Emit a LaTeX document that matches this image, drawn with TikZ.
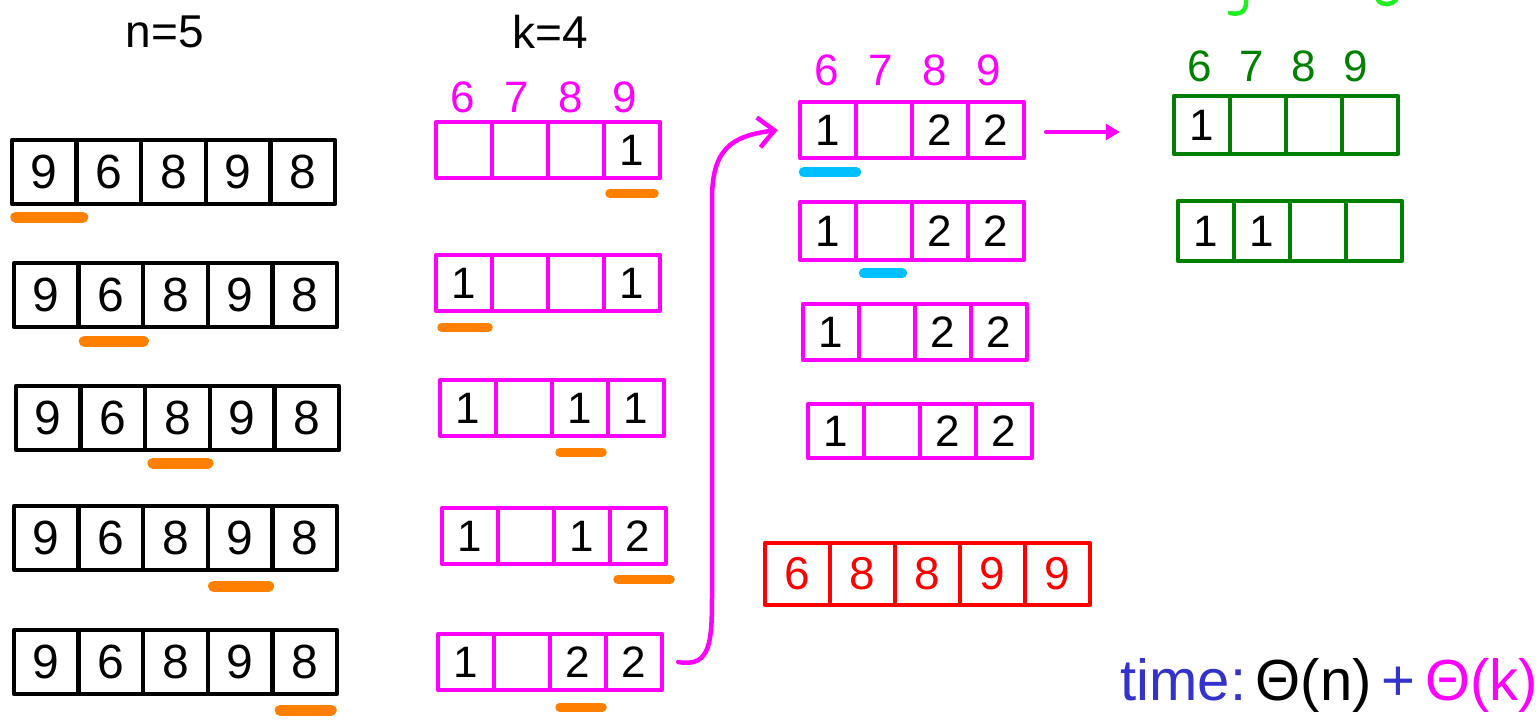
\documentclass[tikz,border=0pt]{standalone}
\usepackage{fontspec}
\setmainfont{Liberation Sans}
\usetikzlibrary{arrows.meta}
\definecolor{mag}{HTML}{FF00FF}
\definecolor{orng}{HTML}{FF8000}
\definecolor{sky}{HTML}{00BFFF}
\definecolor{grn}{HTML}{008000}
\definecolor{lime}{HTML}{22EE22}
\definecolor{rd}{HTML}{FF0000}
\definecolor{tblue}{HTML}{3333CC}
\newcommand\drawarr[9]{%
  \foreach \t [count=\i from 0] in {#8} {
    \node[cell, draw=#6, text=#7, minimum width=#4pt, minimum height=#5pt,
      font=\fontsize{#9}{#9}\selectfont]
      (#1-\i) at ({#2+(\i+0.5)*#4}, #3) {\t};
  }
}
\newcommand\hdr[5]{% name, x0, y, cw, color
  \foreach \t [count=\i from 0] in {6,7,8,9} {
    \node[hdrtext, text=#5] (#1-\i) at ({#2+(\i+0.5)*#4}, #3) {\t};
  }
}
\begin{document}
\begin{tikzpicture}[x=1pt,y=-1pt,
  cell/.style={rectangle, line width=4.5pt, inner sep=0pt, line join=round},
  hdrtext/.style={inner sep=0pt, font=\fontsize{44}{44}\selectfont},
  lbl/.style={inner sep=0pt, font=\fontsize{46}{46}\selectfont},
  omark/.style={orng, line width=11pt, line cap=round},
  bmark/.style={sky, line width=10pt, line cap=round},
  marrow/.style={mag, line width=4.5pt, line cap=round},
]
\useasboundingbox (0,0) rectangle (1540,720);
\fill[white] (0,0) rectangle (1540,720);

% labels
\node[lbl] (nlab) at (165,32) {n=5};
\node[lbl] (klab) at (550,32) {k=4};

% column 1 : input arrays
\drawarr{a1}{12}{172}{64.6}{64}{black}{black}{9,6,8,9,8}{48}
\drawarr{a2}{14}{295}{64.6}{64}{black}{black}{9,6,8,9,8}{48}
\drawarr{a3}{16}{418}{64.6}{64}{black}{black}{9,6,8,9,8}{48}
\drawarr{a4}{14}{538}{64.6}{64}{black}{black}{9,6,8,9,8}{48}
\drawarr{a5}{14}{662}{64.6}{64}{black}{black}{9,6,8,9,8}{48}
\draw[omark] ([xshift=6pt,yshift=-11pt]a1-0.south west) -- ([xshift=4pt,yshift=-11pt]a1-0.south east);
\draw[omark] ([xshift=8pt,yshift=-12pt]a2-1.south west) -- ([xshift=-2pt,yshift=-12pt]a2-1.south east);
\draw[omark] ([xshift=10pt,yshift=-11pt]a3-2.south west) -- ([xshift=-4pt,yshift=-11pt]a3-2.south east);
\draw[omark] ([xshift=8pt,yshift=-14pt]a4-3.south west) -- ([xshift=-6pt,yshift=-14pt]a4-3.south east);
\draw[omark] ([xshift=10pt,yshift=-14pt]a5-4.south west) -- ([xshift=-8pt,yshift=-14pt]a5-4.south east);

% column 2 : counting arrays
\hdr{h2}{436}{97}{54}{mag}
\drawarr{c1}{436}{150}{56}{56}{mag}{black}{{},{},{},1}{44}
\drawarr{c2}{436}{283}{56}{56}{mag}{black}{1,{},{},1}{44}
\drawarr{c3}{440}{408}{56}{56}{mag}{black}{1,{},1,1}{44}
\drawarr{c4}{442}{536}{56}{56}{mag}{black}{1,{},1,2}{44}
\drawarr{c5}{438}{662}{56}{56}{mag}{black}{1,{},2,2}{44}
\draw[omark, line width=9pt] ([xshift=8pt,yshift=-13pt]c1-3.south west) -- ([xshift=-8pt,yshift=-13pt]c1-3.south east);
\draw[omark, line width=9pt] ([xshift=8pt,yshift=-14pt]c2-0.south west) -- ([xshift=-6pt,yshift=-14pt]c2-0.south east);
\draw[omark, line width=9pt] ([xshift=10pt,yshift=-14pt]c3-2.south west) -- ([xshift=-8pt,yshift=-14pt]c3-2.south east);
\draw[omark, line width=9pt] ([xshift=10pt,yshift=-13pt]c4-3.south west) -- ([xshift=2pt,yshift=-13pt]c4-3.south east);
\draw[omark, line width=9pt] ([xshift=12pt,yshift=-15pt]c5-2.south west) -- ([xshift=-6pt,yshift=-15pt]c5-2.south east);

% column 3 : cumulative arrays
\hdr{h3}{800}{70}{54}{mag}
\drawarr{p1}{800}{130}{56}{56}{mag}{black}{1,{},2,2}{44}
\drawarr{p2}{800}{231}{56}{58}{mag}{black}{1,{},2,2}{44}
\drawarr{p3}{803}{332}{56}{56}{mag}{black}{1,{},2,2}{44}
\drawarr{p4}{808}{431}{56}{54}{mag}{black}{1,{},2,2}{44}
\draw[bmark] ([xshift=6pt,yshift=-12pt]p1-0.south west) -- ([xshift=-2pt,yshift=-12pt]p1-0.south east);
\draw[bmark] ([xshift=10pt,yshift=-11pt]p2-1.south west) -- ([xshift=-12pt,yshift=-11pt]p2-1.south east);

% output array
\drawarr{r}{765}{574}{65}{62}{rd}{rd}{6,8,8,9,9}{46}

% column 4 : green arrays
\hdr{h4}{1174}{66}{52}{grn}
\drawarr{g1}{1174}{125}{56}{58}{grn}{black}{1,{},{},{}}{44}
\drawarr{g2}{1178}{231}{56}{60}{grn}{black}{1,1,{},{}}{44}

% cut-off green text at the top edge
\draw[lime, line width=4.5pt, line cap=round] (1246,0) .. controls (1247,12) and (1240,15) .. (1230,13);
\draw[lime, line width=4.5pt, line cap=round] (1378,0) .. controls (1382,6) and (1392,5) .. (1396,0);

% connectors
\coordinate (cs) at ([xshift=14pt]c5-3.east);
\coordinate (ce) at ([xshift=-20pt]p1-0.west);
\draw[marrow, -{Straight Barb[length=16pt,width=30pt,line width=4.5pt]}]
  (cs) .. controls (712,668) and (712,640) .. (712,590)
  -- (712,200) .. controls (712,150) and (730,136) .. (ce);
\coordinate (gs) at ([xshift=20pt,yshift=-2pt]p1-3.east);
\coordinate (ge) at ([xshift=-52pt]g1-0.west |- gs);
\draw[marrow, -{Triangle[length=14pt,width=16pt]}] (gs) -- (ge);

% time complexity
\node[inner sep=0pt, anchor=base east, font=\fontsize{58}{58}\selectfont] (time) at (1538,700)
  {\textcolor{tblue}{time:}\,\textcolor{black}{Θ(n)}\,\textcolor{tblue}{+}\,\textcolor{mag}{Θ(k)}};
\end{tikzpicture}
\end{document}
